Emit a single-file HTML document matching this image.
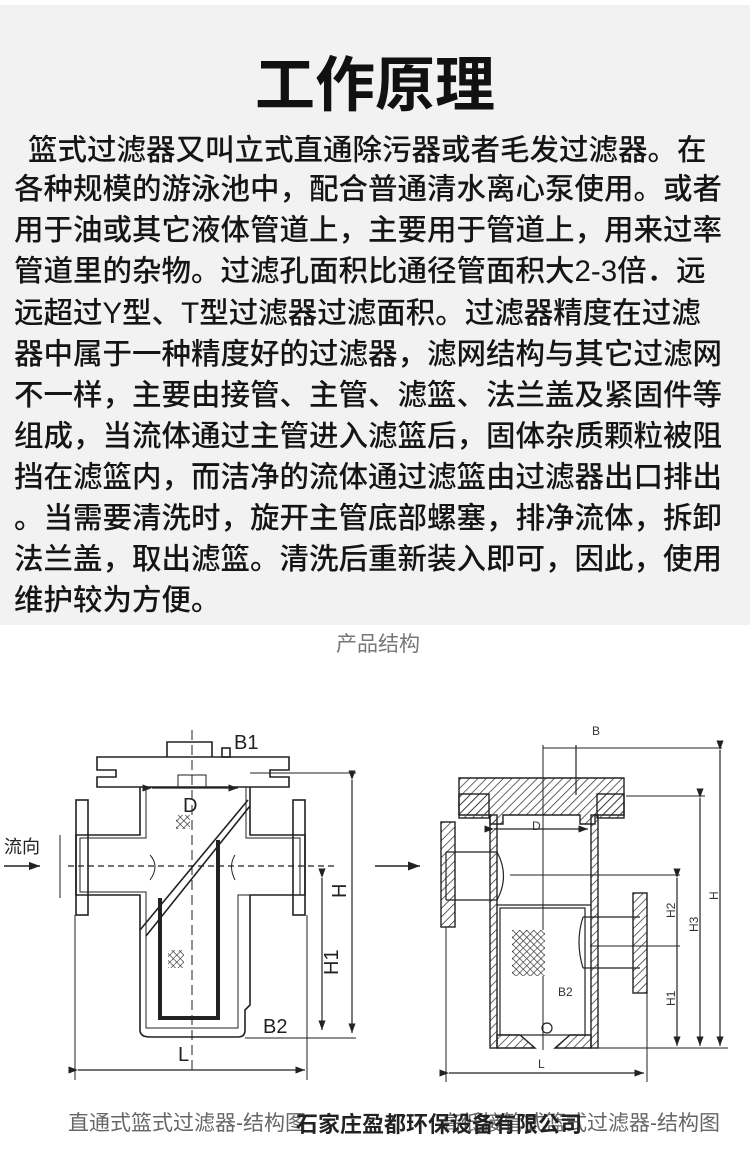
<!DOCTYPE html>
<html><head><meta charset="utf-8"><style>
body{margin:0;width:750px;height:1153px;background:#fff;position:relative;overflow:hidden;font-family:"Liberation Sans","Noto Sans CJK SC",sans-serif}
#top{position:absolute;left:0;top:5px;width:750px;height:620px;background:#f2f2f2}
#title{position:absolute;top:46px;left:0;width:750px;text-align:center;font-size:60px;font-weight:bold;color:#111;line-height:70px}
.ln{position:absolute;left:14px;font-size:29.5px;color:#151515;white-space:nowrap;line-height:40px;font-weight:500}
</style></head><body>
<div id="top">
<div id="title">工作原理</div>
</div>
<div class="ln" style="top:131px;left:28px">篮式过滤器又叫立式直通除污器或者毛发过滤器。在</div>
<div class="ln" style="top:170px">各种规模的游泳池中，配合普通清水离心泵使用。或者</div>
<div class="ln" style="top:211px">用于油或其它液体管道上，主要用于管道上，用来过率</div>
<div class="ln" style="top:252px">管道里的杂物。过滤孔面积比通径管面积大2-3倍．远</div>
<div class="ln" style="top:294px">远超过Y型、T型过滤器过滤面积。过滤器精度在过滤</div>
<div class="ln" style="top:335px">器中属于一种精度好的过滤器，滤网结构与其它过滤网</div>
<div class="ln" style="top:376px">不一样，主要由接管、主管、滤篮、法兰盖及紧固件等</div>
<div class="ln" style="top:417px">组成，当流体通过主管进入滤篮后，固体杂质颗粒被阻</div>
<div class="ln" style="top:458px">挡在滤篮内，而洁净的流体通过滤篮由过滤器出口排出</div>
<div class="ln" style="top:499px">。当需要清洗时，旋开主管底部螺塞，排净流体，拆卸</div>
<div class="ln" style="top:540px">法兰盖，取出滤篮。清洗后重新装入即可，因此，使用</div>
<div class="ln" style="top:581px">维护较为方便。</div>

<svg style="position:absolute;left:0;top:0" width="750" height="1153" viewBox="0 0 750 1153" font-family="Liberation Sans, Noto Sans CJK SC, sans-serif">
<defs>
<pattern id="h" width="6" height="6" patternUnits="userSpaceOnUse" patternTransform="rotate(45)"><line x1="0" y1="0" x2="0" y2="6" stroke="#333" stroke-width="1.5"/></pattern>
<pattern id="m" width="5" height="5" patternUnits="userSpaceOnUse" patternTransform="rotate(45)"><rect width="5" height="5" fill="#fff"/><path d="M0 0H5M0 0V5" stroke="#222" stroke-width="1.2"/></pattern>
<marker id="a" markerWidth="8" markerHeight="6" refX="8" refY="3" orient="auto"><path d="M0 0L8 3L0 6z" fill="#222"/></marker>
</defs>
<text x="378" y="651" font-size="21" fill="#777" text-anchor="middle">产品结构</text>
<g fill="none" stroke="#222" stroke-width="1.6">
<!-- left diagram -->
<path d="M167 757V742H212V757"/>
<path d="M97 757H289V770H270V777H289V787H97V777H116V770H97Z"/>
<rect x="222" y="748" width="8" height="9"/>
<path d="M140 787V835H76V895H140V935V1030Q140 1037 150 1037H238Q245 1037 245 1030V1010L250 1005V895H305V835H250V787"/>
<path d="M146 787V838H80V892H146V1028H238V895H300V838H246V787" stroke-width="1"/>
<rect x="76" y="800" width="12" height="115"/>
<rect x="293" y="800" width="12" height="115"/>
<line x1="60" y1="835" x2="60" y2="898" stroke-width="1"/>
<path d="M140 930L248 800M146 936L250 806"/>
<path d="M160 898V1018H218V840" stroke-width="4"/>
<rect x="178" y="775" width="28" height="12" stroke-width="1"/>
<line x1="192" y1="730" x2="192" y2="1070" stroke-dasharray="10 5" stroke-width="1"/>
<line x1="68" y1="866" x2="335" y2="866" stroke-dasharray="6 4" stroke-width="1.2"/>
<path d="M150 855Q160 866 150 880M235 855Q228 866 235 880" stroke-width="1"/>
<line x1="152" y1="788" x2="238" y2="788" marker-end="url(#a)" marker-start="url(#a)" stroke-width="1.2"/>
<line x1="250" y1="773" x2="356" y2="773" stroke-width="1"/>
<line x1="245" y1="1038" x2="356" y2="1038" stroke-width="1"/>
<line x1="352" y1="780" x2="352" y2="1033" marker-end="url(#a)" marker-start="url(#a)" stroke-width="1.2"/>
<line x1="322" y1="878" x2="322" y2="1030" marker-end="url(#a)" marker-start="url(#a)" stroke-width="1.2"/>
<line x1="75" y1="915" x2="75" y2="1080" stroke-width="1"/>
<line x1="307" y1="915" x2="307" y2="1080" stroke-width="1"/>
<line x1="78" y1="1070" x2="305" y2="1070" marker-end="url(#a)" marker-start="url(#a)" stroke-width="1.2"/>
<line x1="4" y1="866" x2="40" y2="866" marker-end="url(#a)" stroke-width="1.4"/>
</g>
<rect x="176" y="815" width="14" height="14" fill="url(#m)"/>
<rect x="168" y="950" width="16" height="18" fill="url(#m)"/>
<g fill="#222" font-size="20">
<text x="234" y="749">B1</text>
<text x="183" y="812">D</text>
<text x="263" y="1033">B2</text>
<text x="178" y="1061">L</text>
<text x="4" y="853" font-size="18">流向</text>
<text transform="translate(346,898) rotate(-90)" font-size="20">H</text>
<text transform="translate(338,975) rotate(-90)" font-size="20">H1</text>
</g>
<!-- right diagram -->
<g stroke="#222" stroke-width="1.4">
<path d="M459 778H624V815H595V824H580V815H503V824H490V815H459Z" fill="url(#h)"/>
<rect x="459" y="794" width="30" height="24" fill="url(#h)"/>
<rect x="597" y="794" width="27" height="24" fill="url(#h)"/>
<rect x="490" y="815" width="7" height="233" fill="url(#h)"/>
<rect x="591" y="815" width="7" height="233" fill="url(#h)"/>
<path d="M497 1048V1035L520 1035L535 1048ZM591 1048V1035L570 1035L555 1048Z" fill="url(#h)"/>
<rect x="441" y="822" width="14" height="105" fill="url(#h)"/>
<rect x="633" y="893" width="14" height="100" fill="url(#h)"/>
</g>
<g fill="none" stroke="#222" stroke-width="1.2">
<path d="M446 852H497M446 900H497M446 852V900"/>
<path d="M497 852Q510 876 497 900"/>
<path d="M583 917H640M583 968H640M583 917Q575 942 583 968"/>
<rect x="500" y="908" width="85" height="127"/>
<line x1="497" y1="905" x2="591" y2="905"/>
<circle cx="547" cy="1028" r="5"/>
<line x1="543" y1="745" x2="543" y2="1050" stroke-width="1"/>
<line x1="543" y1="748" x2="722" y2="748" stroke-width="1"/>
<line x1="626" y1="796" x2="705" y2="796" stroke-width="1"/>
<line x1="510" y1="875" x2="680" y2="875" stroke-width="1"/>
<line x1="590" y1="946" x2="680" y2="946" stroke-width="1"/>
<line x1="598" y1="1048" x2="728" y2="1048" stroke-width="1"/>
<line x1="720" y1="750" x2="720" y2="1046" marker-end="url(#a)" marker-start="url(#a)"/>
<line x1="700" y1="798" x2="700" y2="1046" marker-end="url(#a)" marker-start="url(#a)"/>
<line x1="677" y1="878" x2="677" y2="1046" marker-end="url(#a)" marker-start="url(#a)"/>
<line x1="446" y1="927" x2="446" y2="1082" stroke-width="1"/>
<line x1="647" y1="993" x2="647" y2="1082" stroke-width="1"/>
<line x1="449" y1="1073" x2="644" y2="1073" marker-end="url(#a)" marker-start="url(#a)"/>
<line x1="494" y1="829" x2="588" y2="829" marker-end="url(#a)" marker-start="url(#a)"/>
<line x1="375" y1="866" x2="420" y2="866" marker-end="url(#a)" stroke-width="1.5"/>
<line x1="576" y1="745" x2="576" y2="795"/>
</g>
<rect x="512" y="930" width="33" height="46" fill="url(#m)"/>
<g fill="#333" font-size="12">
<text x="592" y="735">B</text>
<text x="532" y="830">D</text>
<text x="558" y="996">B2</text>
<text x="538" y="1068">L</text>
<text transform="translate(718,900) rotate(-90)">H</text>
<text transform="translate(698,932) rotate(-90)">H3</text>
<text transform="translate(675,918) rotate(-90)">H2</text>
<text transform="translate(675,1006) rotate(-90)">H1</text>
</g>
<text x="68" y="1130" font-size="21" fill="#666">直通式篮式过滤器-结构图</text>
<text x="440" y="1130" font-size="21" fill="#666">高低接管式篮式过滤器-结构图</text>
<text x="296" y="1132" font-size="22" font-weight="bold" fill="#222">石家庄盈都环保设备有限公司</text>
</svg>
</body></html>
